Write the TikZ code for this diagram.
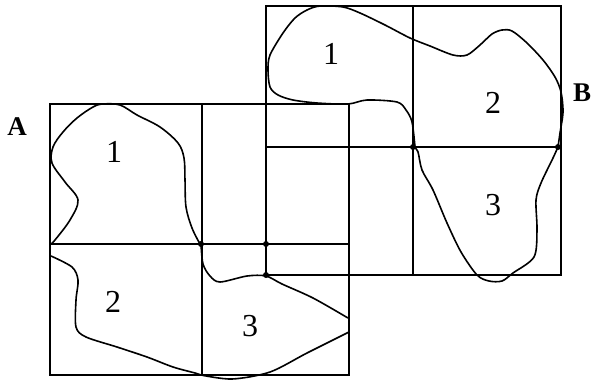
\documentclass[tikz,border=0pt]{standalone}
\usepackage{fontspec}
\setmainfont{Liberation Serif}
\begin{document}
\begin{tikzpicture}[x=1pt,y=-1pt,
  grid/.style={line width=2pt},
  blob/.style={line width=1.6pt, line join=round, line cap=round},
  num/.style={font=\fontsize{32}{32}\selectfont, inner sep=0pt},
  letter/.style={font=\fontsize{27}{27}\selectfont\bfseries, inner sep=0pt},
  jdot/.style={fill=black, circle, inner sep=0pt, minimum size=6pt}]
\useasboundingbox[fill=white] (0,0) rectangle (596,381);
% square A
\draw[grid] (50,104) rectangle (349,375);
\draw[grid] (202,104) -- (202,375);
\draw[grid] (50,244) -- (349,244);
% square B
\draw[grid] (266,6) rectangle (561,275);
\draw[grid] (413,6) -- (413,275);
\draw[grid] (266,147) -- (561,147);
% junction dots
\node[jdot] (d1) at (201,244) {};
\node[jdot] (d2) at (266,244) {};
\node[jdot] (d3) at (266,275) {};
\node[jdot] (d4) at (413,147) {};
\node[jdot] (d5) at (558,147) {};
% blob A1
\draw[blob] plot[smooth, tension=0.55] coordinates {(200,244) (192,228) (186,207) (185,180) (184,158) (178,143) (160,127) (137,115) (120,105) (103,104) (93,107) (77,118) (63,132) (53,147) (52,163) (65,182) (78,200) (70,220) (55,240) (51,244)};
% blob A2
\draw[blob] plot[smooth, tension=0.5] coordinates {(51,256) (72,267) (78,280) (76,300) (76,327) (86,337) (117,347) (147,357) (173,367) (195,373) (201,375)};
% blob A3
\draw[blob] plot[smooth, tension=0.5] coordinates {(201,244) (203,264) (210,276) (220,282) (247,276) (266,276) (282,284) (313,298) (348,318)};
\draw[blob] plot[smooth, tension=0.5] coordinates {(349,332) (307,353) (270,372) (232,379) (201,375)};
% blob B1 / B2
\draw[blob] plot[smooth, tension=0.5] coordinates {(415,147) (412,122) (406,110) (397,102) (367,100) (348,104) (317,103) (293,100) (278,95) (270,87) (268,70) (270,55) (283,33) (295,18) (307,10) (320,6) (343,7) (360,13) (385,25) (410,38) (430,46) (453,55) (467,55) (480,45) (492,34) (502,30) (512,31) (527,43) (543,60) (555,77) (561,92) (563,112) (560,133) (558,147)};
% blob B3
\draw[blob] plot[smooth, tension=0.5] coordinates {(414,147) (418,152) (422,170) (433,190) (447,223) (461,252) (477,275) (489,281) (502,281) (513,273) (534,257) (537,230) (536,200) (541,183) (553,158) (558,147)};
% labels
\node[letter] (la) at (17,127) {A};
\node[letter] (lb) at (582,93) {B};
\node[num] (a1) at (114,152) {1};
\node[num] (a2) at (113,302) {2};
\node[num] (a3) at (250,326) {3};
\node[num] (b1) at (331,54) {1};
\node[num] (b2) at (493,103) {2};
\node[num] (b3) at (493,205) {3};
\end{tikzpicture}
\end{document}
